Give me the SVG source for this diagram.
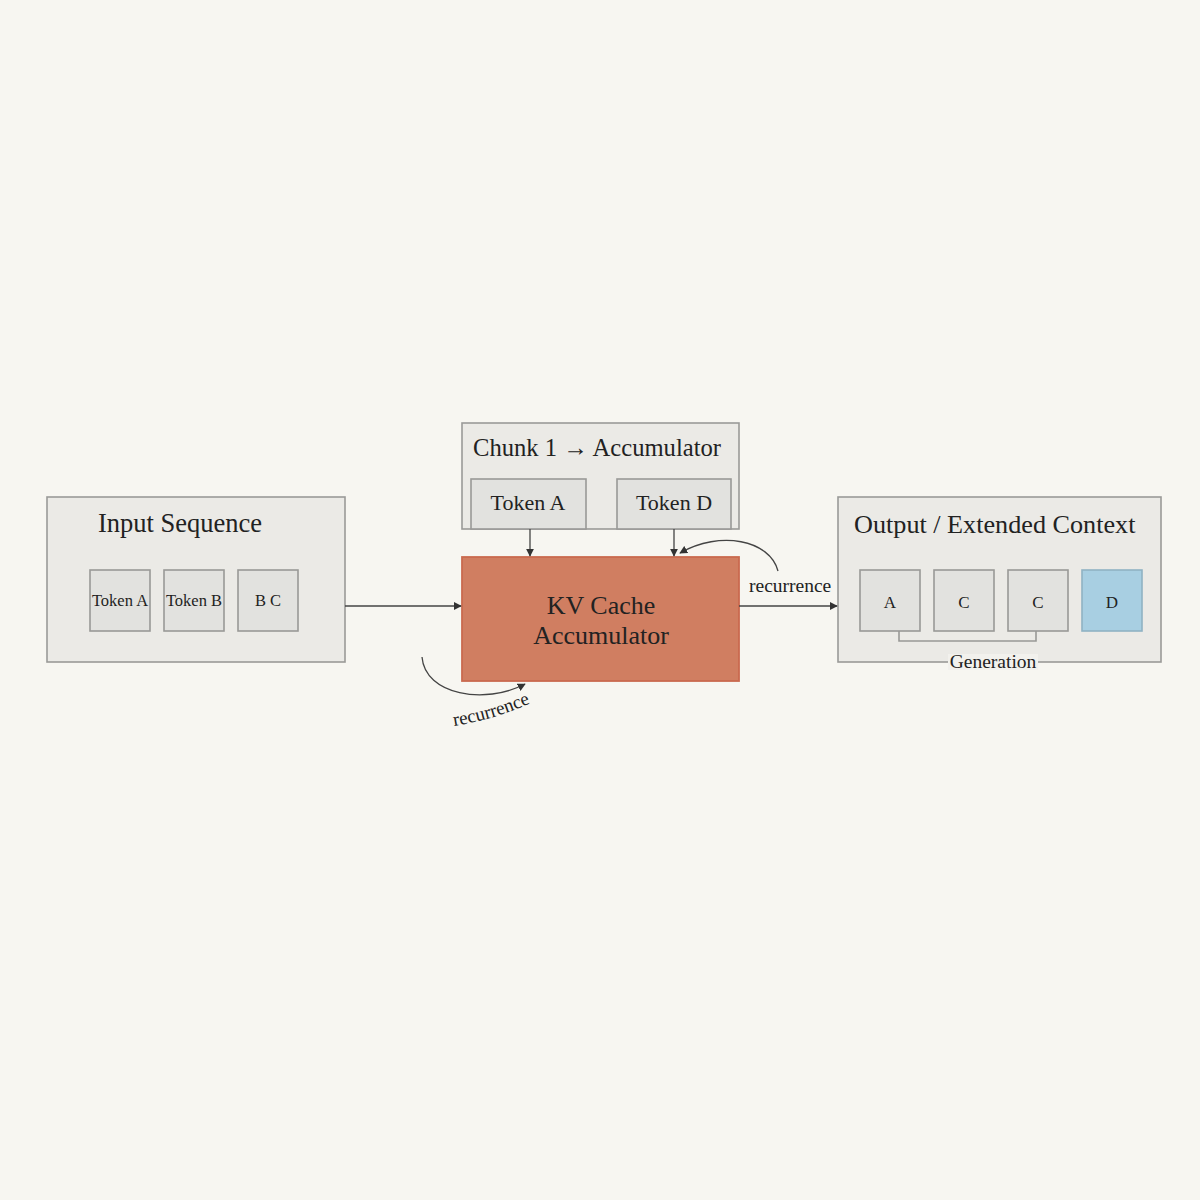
<svg xmlns="http://www.w3.org/2000/svg" width="1200" height="1200" viewBox="0 0 1200 1200">
<defs>
<marker id="ah" viewBox="0 0 10 10" refX="9" refY="5" markerWidth="8" markerHeight="8" orient="auto" markerUnits="userSpaceOnUse">
<path d="M0,0 L10,5 L0,10 z" fill="#333"/>
</marker>
<path id="recPath" d="M454,726 Q498,719 540,699"/>
<style>
.box{fill:#ebeae6;stroke:#9a9a98;stroke-width:1.6}
.tok{fill:#e2e2df;stroke:#999997;stroke-width:1.6}
.t{font-family:"Liberation Serif","DejaVu Serif",serif;fill:#222}
.conn{fill:none;stroke:#444;stroke-width:1.3}
</style>
</defs>
<rect width="1200" height="1200" fill="#f7f6f1"/>

<g id="input">
<rect class="box" x="47" y="497" width="298" height="165"/>
<text class="t" x="98" y="532" font-size="26.5">Input Sequence</text>
<rect class="tok" x="90" y="570" width="60" height="61"/>
<text class="t" x="120" y="606" font-size="16.5" text-anchor="middle">Token A</text>
<rect class="tok" x="164" y="570" width="60" height="61"/>
<text class="t" x="194" y="606" font-size="16.5" text-anchor="middle">Token B</text>
<rect class="tok" x="238" y="570" width="60" height="61"/>
<text class="t" x="268" y="606" font-size="16.5" text-anchor="middle">B C</text>
</g>

<g id="chunk">
<rect class="box" x="462" y="423" width="277" height="106"/>
<text class="t" x="473" y="456" font-size="24.6">Chunk 1 → Accumulator</text>
<rect class="tok" x="471" y="479" width="115" height="50"/>
<text class="t" x="528" y="510" font-size="22" text-anchor="middle">Token A</text>
<rect class="tok" x="617" y="479" width="114" height="50"/>
<text class="t" x="674" y="510" font-size="22" text-anchor="middle">Token D</text>
</g>

<g id="kv">
<rect x="462" y="557" width="277" height="124" fill="#d07e61" stroke="#c96a4f" stroke-width="1.8"/>
<text class="t" x="601" y="614" font-size="26" text-anchor="middle">KV Cache</text>
<text class="t" x="601" y="644" font-size="26" text-anchor="middle">Accumulator</text>
</g>

<g id="output">
<rect class="box" x="838" y="497" width="323" height="165"/>
<text class="t" x="854" y="533" font-size="26.2">Output / Extended Context</text>
<rect class="tok" x="860" y="570" width="60" height="61"/>
<text class="t" x="890" y="608" font-size="17" text-anchor="middle">A</text>
<rect class="tok" x="934" y="570" width="60" height="61"/>
<text class="t" x="964" y="608" font-size="17" text-anchor="middle">C</text>
<rect class="tok" x="1008" y="570" width="60" height="61"/>
<text class="t" x="1038" y="608" font-size="17" text-anchor="middle">C</text>
<rect x="1082" y="570" width="60" height="61" fill="#a8cfe2" stroke="#8fb2c4" stroke-width="1.6"/>
<text class="t" x="1112" y="608" font-size="17" text-anchor="middle">D</text>
<path d="M899,631 V641 H1036 V631" fill="none" stroke="#999997" stroke-width="1.6"/>
<rect x="948" y="654" width="90" height="16" fill="#f2f1ed"/>
<text class="t" x="993" y="668" font-size="19.5" text-anchor="middle">Generation</text>
</g>

<g id="connectors">
<line class="conn" x1="345" y1="606" x2="461" y2="606" marker-end="url(#ah)"/>
<line class="conn" x1="739" y1="606" x2="837" y2="606" marker-end="url(#ah)"/>
<line class="conn" x1="530" y1="529" x2="530" y2="556" marker-end="url(#ah)"/>
<line class="conn" x1="674" y1="529" x2="674" y2="556" marker-end="url(#ah)"/>
<path class="conn" d="M778,571 C770,540 720,530 680,553" marker-end="url(#ah)"/>
<path class="conn" d="M422,657 C425,695 485,705 525,684" marker-end="url(#ah)"/>
<text class="t" x="749" y="592" font-size="19.5">recurrence</text>
<text class="t" font-size="19"><textPath href="#recPath">recurrence</textPath></text>
</g>
</svg>
